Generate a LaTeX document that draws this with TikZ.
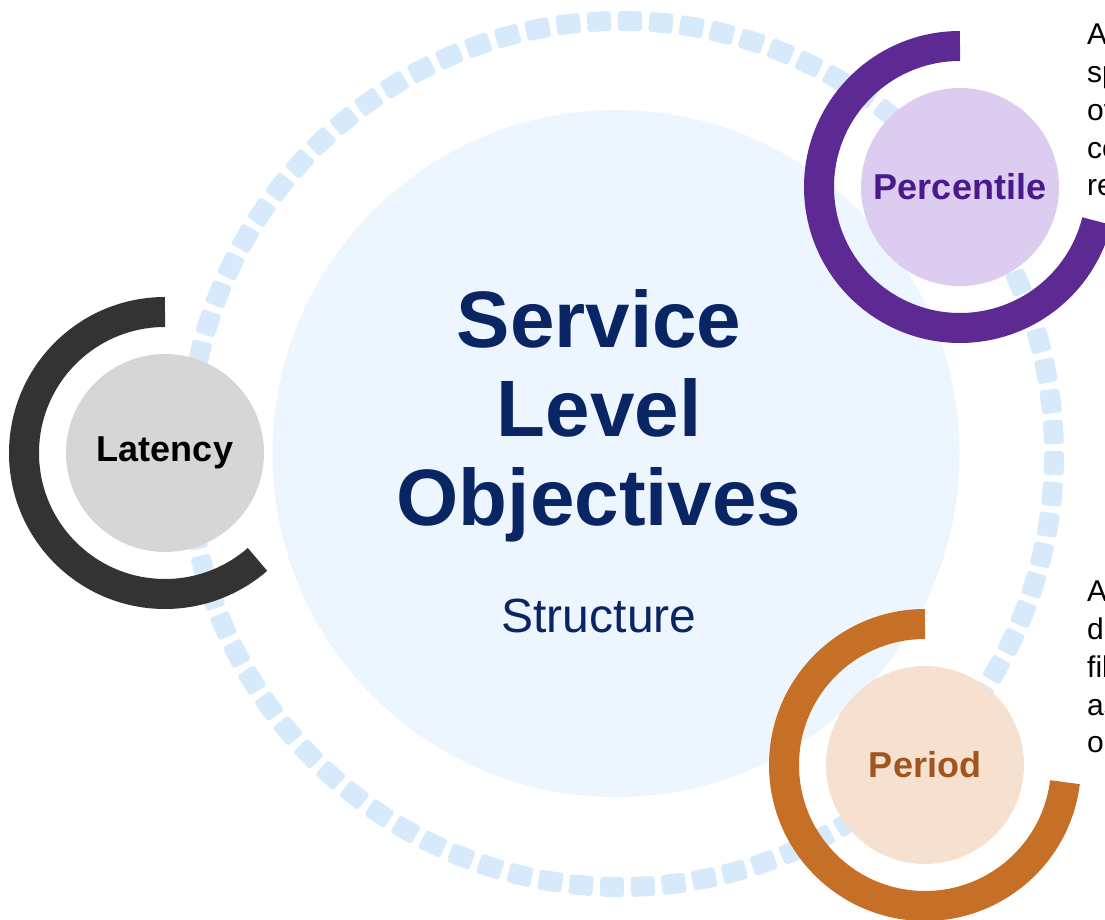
\documentclass[tikz,border=0pt]{standalone}
\usepackage{fontspec}
\setmainfont{Liberation Sans}
\definecolor{navy}{RGB}{10,37,100}
\definecolor{coreblue}{RGB}{237,245,254}
\definecolor{ringblue}{RGB}{214,234,252}
\definecolor{latdark}{RGB}{51,51,51}
\definecolor{latlight}{RGB}{214,214,214}
\definecolor{pctdark}{RGB}{93,42,148}
\definecolor{pctlight}{RGB}{220,204,240}
\definecolor{pcttext}{RGB}{74,26,138}
\definecolor{perdark}{RGB}{198,112,39}
\definecolor{perlight}{RGB}{246,225,208}
\definecolor{pertext}{RGB}{160,84,30}
\usetikzlibrary{positioning}

\tikzset{
    hub/.style={circle, inner sep=0pt, minimum size=198pt, font=\fontsize{36}{40}\selectfont\bfseries},
    hubarc/.style={line width=30pt},
    ringdash/.style={rectangle, rounded corners=3pt, fill=ringblue, inner sep=0pt, minimum width=20pt, minimum height=24pt},
    sidetext/.style={anchor=base west, inner sep=0pt, font=\fontsize{30}{36}\selectfont}
}

\begin{document}
\begin{tikzpicture}[x=1pt, y=1pt]
    \clip (0,0) rectangle (1105,920);
    \node[circle, fill=coreblue, minimum size=687pt, inner sep=0pt] (core) at (616,466.5) {};
    \coordinate (ring) at (621,466);
    \foreach \k [evaluate=\k as \a using 88.8+\k*4.0909] in {0,...,87}
        \path (ring) ++(\a:433) node[ringdash, rotate=\a] (dash\k) {};

    \node[align=center, text=navy, font=\fontsize{80}{89}\selectfont\bfseries] (title) at (599,504) {Service\\Level\\Objectives};
    \node[anchor=base, text=navy, font=\fontsize{48}{56}\selectfont] (subtitle) at (599,287) {Structure};

    \node[hub, fill=latlight, text=black] (latency) at (165,467) {Latency};
    \draw[hubarc, latdark] (latency.center) ++(90:141) arc[start angle=90, end angle=311, radius=141];

    \node[hub, fill=pctlight, text=pcttext] (percentile) at (960,733) {Percentile};
    \draw[hubarc, pctdark] (percentile.center) ++(90:141) arc[start angle=90, end angle=346, radius=141];

    \node[hub, fill=perlight, text=pertext] (period) at (925,155) {Period};
    \draw[hubarc, perdark] (period.center) ++(90:141) arc[start angle=90, end angle=353, radius=141];

    \foreach \t [count=\i] in {A,sp,ov,co,re}
        \node[sidetext] (pctnote\i) at (1087,{875-37.7*(\i-1)}) {\t};
    \foreach \t [count=\i] in {A,de,fil,as,ob}
        \node[sidetext] (pernote\i) at (1087,{318-37.7*(\i-1)}) {\t};
\end{tikzpicture}
\end{document}
